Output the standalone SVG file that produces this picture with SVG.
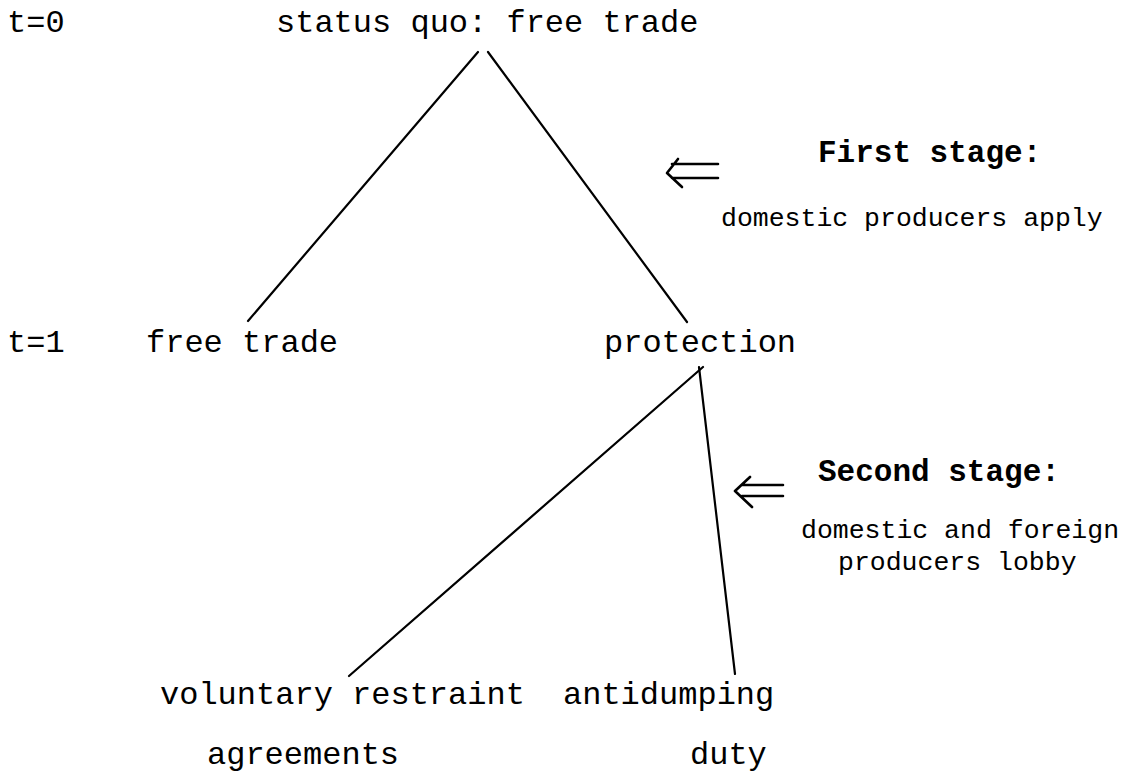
<svg xmlns="http://www.w3.org/2000/svg" width="1134" height="773" viewBox="0 0 1134 773">
<style>
.t{font-family:"Liberation Mono","Courier New",monospace;font-size:32px;fill:#000}
.s{font-family:"Liberation Mono","Courier New",monospace;font-size:26.5px;fill:#000}
.b{font-family:"Liberation Mono","Courier New",monospace;font-size:31px;font-weight:bold;fill:#000}
.e{stroke:#000;stroke-width:2.2;fill:none;stroke-linecap:round}
.a{stroke:#000;stroke-width:2.6;fill:none;stroke-linecap:round;stroke-linejoin:round}
</style>
<rect width="1134" height="773" fill="#fff"/>
<g id="labels">
<text class="t" x="7" y="32">t=0</text>
<text class="t" x="7" y="352">t=1</text>
</g>
<g id="root"><text class="t" x="276" y="32">status quo: free trade</text></g>
<g id="freetrade"><text class="t" x="146" y="352">free trade</text></g>
<g id="protection"><text class="t" x="604" y="352">protection</text></g>
<g id="vra"><text class="t" x="160" y="704">voluntary restraint</text><text class="t" x="207" y="764">agreements</text></g>
<g id="antidumping"><text class="t" x="563" y="704">antidumping</text><text class="t" x="690" y="764">duty</text></g>
<g id="stage1">
<text class="b" x="818" y="162">First stage:</text>
<text class="s" x="721" y="226">domestic producers apply</text>
<path class="a" d="M678,159 L667,173 L682,187 M672,164 L718,164 M672,178 L718,178"/>
</g>
<g id="stage2">
<text class="b" x="818" y="481">Second stage:</text>
<text class="s" x="801" y="538">domestic and foreign</text>
<text class="s" x="838" y="570">producers lobby</text>
<path class="a" d="M750,477 L735,491 L752,507 M742,485 L783,485 M742,496 L783,496"/>
</g>
<g id="connectors">
<line class="e" x1="478" y1="52" x2="248" y2="321"/>
<line class="e" x1="488" y1="52" x2="687" y2="322"/>
<line class="e" x1="703" y1="367" x2="349" y2="676"/>
<line class="e" x1="699" y1="367" x2="735" y2="674"/>
</g>
</svg>
